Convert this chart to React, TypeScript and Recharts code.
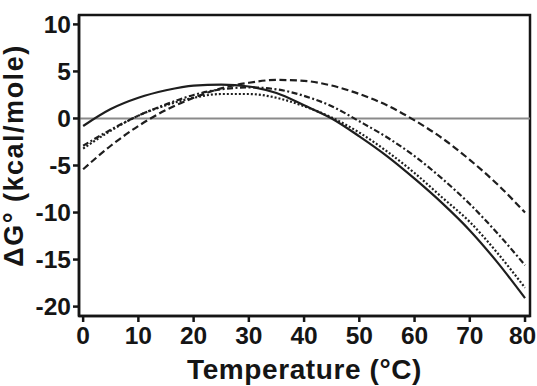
import React from "react";
import {
  LineChart,
  Line,
  XAxis,
  YAxis,
  ReferenceLine,
  ReferenceArea,
  Label,
} from "recharts";

// Temperature grid (°C)
const temperatures = [0, 5, 10, 15, 20, 25, 30, 35, 40, 45, 50, 55, 60, 65, 70, 75, 80];

// ΔG° (kcal/mole) for each construct, one array per curve
const solidCurve = [-0.8, 1.0, 2.2, 3.0, 3.5, 3.6, 3.4, 2.7, 1.4, 0.0, -1.9, -4.0, -6.4, -9.0, -11.9, -15.3, -19.1];
const dashedCurve = [-5.4, -2.9, -0.8, 0.9, 2.2, 3.2, 3.8, 4.1, 4.0, 3.5, 2.6, 1.4, -0.2, -2.1, -4.4, -7.0, -10.0];
const dashDotCurve = [-2.9, -1.2, 0.3, 1.5, 2.5, 3.1, 3.3, 3.1, 2.4, 1.3, -0.3, -2.0, -4.0, -6.4, -9.1, -12.2, -15.6];
const dottedCurve = [-3.2, -1.3, 0.3, 1.4, 2.2, 2.6, 2.6, 2.2, 1.3, 0.1, -1.5, -3.5, -5.8, -8.4, -11.0, -14.3, -18.0];

const xTicks = [0, 10, 20, 30, 40, 50, 60, 70, 80];
const yTicks = [10, 5, 0, -5, -10, -15, -20];

const X_DOMAIN: [number, number] = [-0.75, 80.9];
const Y_DOMAIN: [number, number] = [-21, 11];

const rows = temperatures.map((t, i) => ({
  t,
  solid: solidCurve[i],
  dashed: dashedCurve[i],
  dashDot: dashDotCurve[i],
  dotted: dottedCurve[i],
}));

const FONT = "'Liberation Sans', Arial, Helvetica, sans-serif";
const INK = "#151515";
const tickStyle = { fill: INK, fontSize: 24.5, fontWeight: 700, fontFamily: FONT };

// X tick label; the last one is nudged left so it stays inside the canvas
function XTick(props: any) {
  const { x, y, payload } = props;
  const last = payload.value === xTicks[xTicks.length - 1];
  return (
    <text
      x={x + (last ? -2.5 : 0)}
      y={y}
      dy="0.71em"
      textAnchor="middle"
      {...tickStyle}
    >
      {payload.value}
    </text>
  );
}

export default function App() {
  return (
    <div style={{ position: "absolute", left: 0, top: 0, background: "#fff" }}>
      <LineChart
        width={537}
        height={386}
        data={rows}
        margin={{ top: 15, right: 7, bottom: 0, left: 0 }}
      >
        <XAxis
          dataKey="t"
          type="number"
          domain={X_DOMAIN}
          allowDataOverflow
          ticks={xTicks}
          interval={0}
          height={70}
          tickSize={6}
          tickMargin={5}
          axisLine={{ stroke: INK, strokeWidth: 2.5 }}
          tickLine={{ stroke: INK, strokeWidth: 2.5 }}
          tick={<XTick />}
        >
          <Label
            value="Temperature (°C)"
            position="insideBottom"
            offset={7}
            fill={INK}
            fontSize={28}
            fontWeight={700}
            fontFamily={FONT}
            style={{ letterSpacing: "0.6px" }}
          />
        </XAxis>
        <YAxis
          type="number"
          domain={Y_DOMAIN}
          allowDataOverflow
          ticks={yTicks}
          interval={0}
          width={79}
          tickSize={6}
          tickMargin={2}
          axisLine={{ stroke: INK, strokeWidth: 2.5 }}
          tickLine={{ stroke: INK, strokeWidth: 2.5 }}
          tick={tickStyle}
        >
          <Label
            value="ΔG° (kcal/mole)"
            position="insideLeft"
            angle={-90}
            offset={13}
            dy={-10}
            fill={INK}
            fontSize={27}
            fontWeight={700}
            fontFamily={FONT}
            style={{ textAnchor: "middle", letterSpacing: "1.5px" }}
          />
        </YAxis>
        <ReferenceArea
          x1={X_DOMAIN[0]}
          x2={X_DOMAIN[1]}
          y1={Y_DOMAIN[0]}
          y2={Y_DOMAIN[1]}
          fill="none"
          fillOpacity={0}
          stroke={INK}
          strokeWidth={2.5}
        />
        <ReferenceLine y={0} stroke="#8a8a8a" strokeWidth={2} />
        <Line
          dataKey="dashed"
          type="monotone"
          stroke="#1e1e1e"
          strokeWidth={2.2}
          strokeDasharray="7 3.5"
          dot={false}
          isAnimationActive={false}
        />
        <Line
          dataKey="dashDot"
          type="monotone"
          stroke="#1e1e1e"
          strokeWidth={2.2}
          strokeDasharray="6 2.5 2 2.5"
          dot={false}
          isAnimationActive={false}
        />
        <Line
          dataKey="dotted"
          type="monotone"
          stroke="#1e1e1e"
          strokeWidth={2.2}
          strokeDasharray="2 2"
          dot={false}
          isAnimationActive={false}
        />
        <Line
          dataKey="solid"
          type="monotone"
          stroke="#1e1e1e"
          strokeWidth={2.2}
          dot={false}
          isAnimationActive={false}
        />
      </LineChart>
    </div>
  );
}
